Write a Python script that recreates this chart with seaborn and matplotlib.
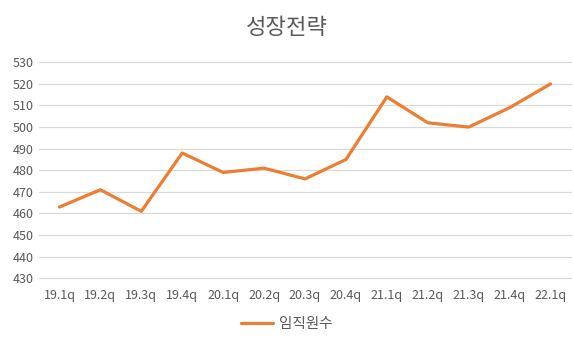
import matplotlib
matplotlib.use("Agg")
import matplotlib.pyplot as plt
import seaborn as sns
import pandas as pd

quarters = ["19.1q", "19.2q", "19.3q", "19.4q", "20.1q", "20.2q", "20.3q",
            "20.4q", "21.1q", "21.2q", "21.3q", "21.4q", "22.1q"]
employees = [463, 471, 461, 488, 479, 481, 476, 485, 514, 502, 500, 509, 520]
series_name = "임직원수"
title = "성장전략"
y_ticks = list(range(430, 531, 10))

sns.set_theme(style="white")
plt.rcParams['font.family'] = ['Noto Sans CJK KR', 'DejaVu Sans']

df = pd.DataFrame({"quarter": quarters, "value": employees, "series": series_name})
df["pos"] = range(len(quarters))

fig = plt.figure(figsize=(5.74, 3.41), dpi=100)
ax = fig.add_axes([39 / 574, 1 - 278.3 / 341, (571 - 39) / 574, (278.3 - 62.3) / 341])

sns.lineplot(data=df, x="pos", y="value", hue="series", palette=["#ED7D31"],
             linewidth=2.3, ax=ax, legend=True)

ax.set_xlim(-0.5, len(quarters) - 0.5)
ax.set_ylim(430, 530)
ax.set_yticks(y_ticks)
ax.set_xticks(range(len(quarters)))
ax.set_xticklabels(quarters)
ax.yaxis.grid(True, color="#D9D9D9", linewidth=0.9)
ax.xaxis.grid(False)
ax.set_axisbelow(True)
for gl in ax.get_ygridlines():
    gl.set_clip_on(False)
for s in ax.spines.values():
    s.set_visible(False)
ax.tick_params(axis="both", colors="#595959", labelsize=9, length=0)
ax.tick_params(axis="x", pad=8)
ax.tick_params(axis="y", pad=4)
ax.set_xlabel("")
ax.set_ylabel("")

fig.text(0.5, 1 - 27 / 341, title, ha="center", va="center", fontsize=16, color="#595959")

handles, labels = ax.get_legend_handles_labels()
ax.legend(handles, labels, loc="center", bbox_to_anchor=(0.5, 1 - 324 / 341),
          bbox_transform=fig.transFigure, frameon=False, fontsize=10.5,
          labelcolor="#595959", handlelength=2.2, handletextpad=0.4)

fig.savefig("out.png", dpi=100)
